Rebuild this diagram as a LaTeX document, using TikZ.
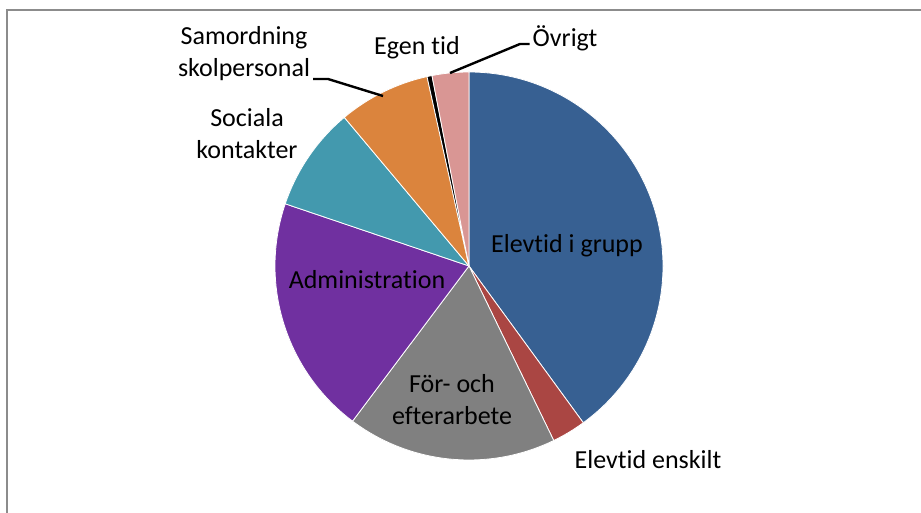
\documentclass[tikz,border=0pt]{standalone}
\usepackage{fontspec}
\setmainfont[Ligatures=NoCommon]{Carlito}
\usepackage{tikz}
\usetikzlibrary{positioning}
\definecolor{grpblue}{HTML}{376092}
\definecolor{enskred}{HTML}{AA4643}
\definecolor{forgray}{HTML}{808080}
\definecolor{admpurple}{HTML}{7030A0}
\definecolor{socteal}{HTML}{4399AE}
\definecolor{samorange}{HTML}{DB843D}
\definecolor{ovrpink}{HTML}{D99694}
\definecolor{framegray}{HTML}{8C8C8C}
\tikzset{slice/.style={fill=#1, draw=white, line width=0.8pt, line join=round}}
\tikzset{pie label/.style={font=\fontsize{26}{32}\selectfont, text=black, align=center, inner sep=3pt}}
\tikzset{leader/.style={draw=black, line width=2.4pt}}
\tikzset{chart frame/.style={draw=framegray, line width=2pt}}
\newcommand{\pieslice}[3]{\path [slice=#3] (centre) -- ++(#1:194) arc [start angle=#1, end angle=#2, radius=194] -- cycle;}

\begin{document}
\begin{tikzpicture}
  [x=1pt, y=1pt]
  \useasboundingbox (0,0) rectangle (921,513);
  \draw [chart frame] (7,0) -- (7,502.5) -- (921,502.5);

  \coordinate (centre) at (469,247);
  \pieslice{  90   }{ -53.9}{grpblue}
  \pieslice{ -53.9 }{ -64.1}{enskred}
  \pieslice{ -64.1 }{-126.9}{forgray}
  \pieslice{-126.9 }{-198.7}{admpurple}
  \pieslice{-198.7 }{-230  }{socteal}
  \pieslice{-230   }{-257.5}{samorange}
  \pieslice{-257.5 }{-259  }{black}
  \pieslice{-259   }{-270  }{ovrpink}

  \node [pie label] (grupp)   at (567,267) {Elevtid i grupp};
  \node [pie label] (enskilt) at (648, 53) {Elevtid enskilt};
  \node [pie label] (forefter) at (452,113) {För- och\\efterarbete};
  \node [pie label] (admin)   at (367,233) {Administration};
  \node [pie label] (sociala) at (247,379) {Sociala\\kontakter};
  \node [pie label] (samord)  at (244,459) {Samordning\\skolpersonal};
  \node [pie label] (egentid) at (417,465) {Egen tid};
  \node [pie label] (ovrigt)  at (565,475) {Övrigt};

  \coordinate (samord knee) at (328,434);
  \coordinate (samord tip)  at (383,417);
  \coordinate (ovrigt knee) at (520,469);
  \coordinate (ovrigt tip)  at (450,440);

  \draw [leader] (samord.east |- samord knee) -- (samord knee) -- (samord tip);
  \draw [leader] (ovrigt.west |- ovrigt knee) -- (ovrigt knee) -- (ovrigt tip);
\end{tikzpicture}
\end{document}
